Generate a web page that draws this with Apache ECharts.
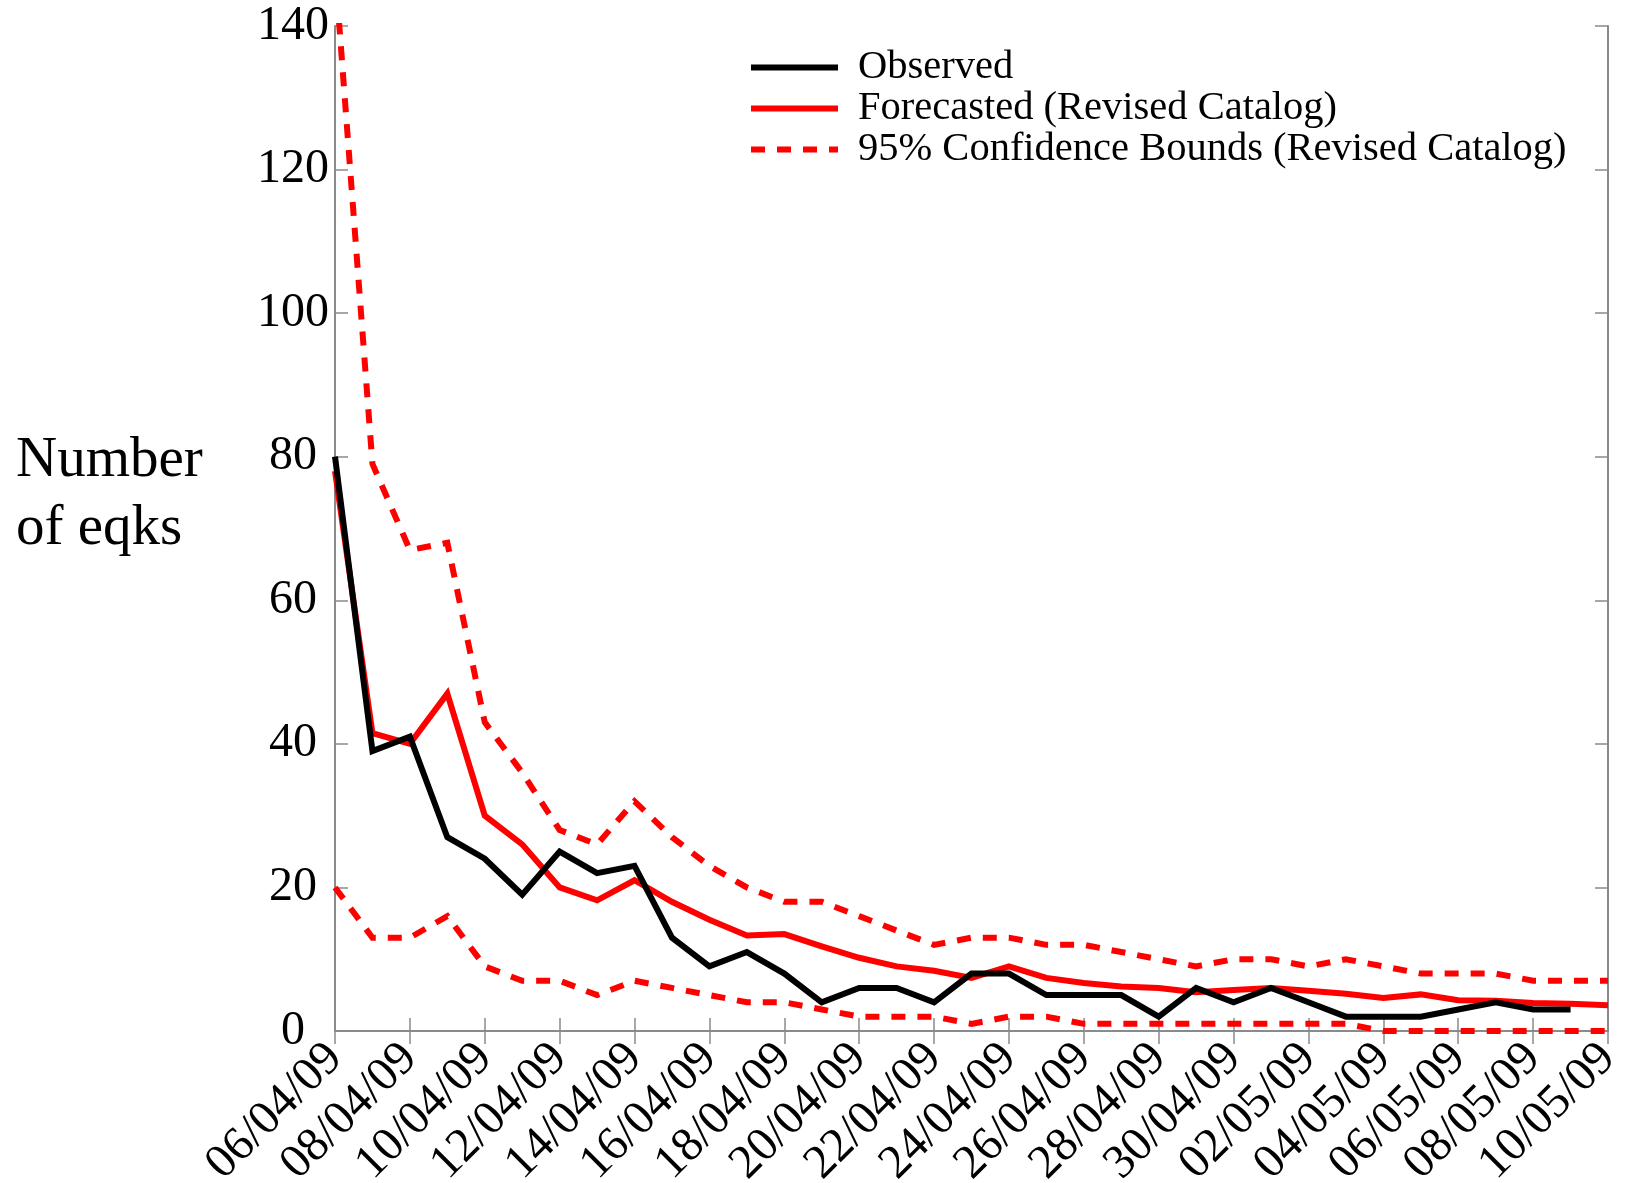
<!DOCTYPE html>
<html>
<head>
<meta charset="utf-8">
<script src="https://cdn.jsdelivr.net/npm/echarts/dist/echarts.min.js"></script>
<style>
  html, body { margin: 0; padding: 0; background: #ffffff; }
  #chart { width: 1627px; height: 1183px; }
</style>
</head>
<body>
<div id="chart"></div>
<script>
// Daily earthquake counts, 6 April – 10 May 2009
const dates = [
  '06/04/09','07/04/09','08/04/09','09/04/09','10/04/09','11/04/09','12/04/09',
  '13/04/09','14/04/09','15/04/09','16/04/09','17/04/09','18/04/09','19/04/09',
  '20/04/09','21/04/09','22/04/09','23/04/09','24/04/09','25/04/09','26/04/09',
  '27/04/09','28/04/09','29/04/09','30/04/09','01/05/09','02/05/09','03/05/09',
  '04/05/09','05/05/09','06/05/09','07/05/09','08/05/09','09/05/09','10/05/09'
];

const observed = [
  80, 39, 41, 27, 24, 19, 25, 22, 23, 13, 9, 11, 8, 4, 6, 6, 4, 8, 8, 5, 5,
  5, 2, 6, 4, 6, 4, 2, 2, 2, 3, 4, 3, 3, null
];

const forecasted = [
  78, 41.5, 40, 47, 30, 26, 20, 18.2, 21, 18, 15.5, 13.3, 13.5, 11.8, 10.2, 9.0,
  8.4, 7.4, 9.0, 7.4, 6.7, 6.2, 6.0, 5.4, 5.7, 6.0, 5.6, 5.2, 4.6, 5.1, 4.3,
  4.2, 3.9, 3.8, 3.6
];

const upperBound = [
  148, 79, 67, 68, 43, 36, 28, 26, 32, 27, 23, 20, 18, 18, 16, 14, 12, 13, 13,
  12, 12, 11, 10, 9, 10, 10, 9, 10, 9, 8, 8, 8, 7, 7, 7
];

const lowerBound = [
  20, 13, 13, 16, 9, 7, 7, 5, 7, 6, 5, 4, 4, 3, 2, 2, 2, 1, 2, 2, 1, 1, 1, 1,
  1, 1, 1, 1, 0, 0, 0, 0, 0, 0, 0
];

const yMin = 0, yMax = 140, yStep = 20;

const NAME_OBS = 'Observed';
const NAME_FC = 'Forecasted (Revised Catalog)';
const NAME_CB = '95% Confidence Bounds (Revised Catalog)';

const SERIF = '"Liberation Serif", "Times New Roman", serif';
const RED = '#ff0000';
const AXIS_GRAY = '#8a8a8a';

const frameLine = { show: true, lineStyle: { color: AXIS_GRAY, width: 2 } };
const frameTick = { show: true, inside: true, length: 13, lineStyle: { color: AXIS_GRAY, width: 1.5 } };

const chart = echarts.init(document.getElementById('chart'), null, { renderer: 'canvas' });

chart.setOption({
  animation: false,
  backgroundColor: '#ffffff',
  grid: {
    left: 335, right: 19, top: 26, bottom: 152,
    containLabel: false,
    outerBoundsMode: 'none'
  },
  legend: {
    orient: 'vertical',
    left: 748,
    top: 47,
    padding: 0,
    itemGap: 0,
    itemWidth: 87,
    itemHeight: 14,
    data: [NAME_OBS, NAME_FC, NAME_CB],
    itemStyle: { opacity: 0 },
    lineStyle: { width: 6 },
    textStyle: {
      fontFamily: SERIF,
      fontSize: 40.5,
      lineHeight: 41,
      color: '#000000',
      padding: [0, 0, 0, 15]
    }
  },
  xAxis: [
    {
      type: 'category',
      data: dates,
      boundaryGap: false,
      position: 'bottom',
      axisLine: frameLine,
      axisTick: Object.assign({ interval: 1 }, frameTick),
      axisLabel: {
        interval: 1,
        rotate: 45,
        margin: 20,
        fontFamily: SERIF,
        fontSize: 48,
        color: '#000000'
      },
      splitLine: { show: false }
    },
    {
      type: 'category',
      data: dates,
      boundaryGap: false,
      position: 'top',
      axisLine: frameLine,
      axisTick: Object.assign({ interval: 1 }, frameTick),
      axisLabel: { show: false },
      splitLine: { show: false }
    }
  ],
  yAxis: [
    {
      type: 'value',
      min: yMin,
      max: yMax,
      interval: yStep,
      position: 'left',
      axisLine: frameLine,
      axisTick: frameTick,
      axisLabel: {
        margin: 42,
        align: 'center',
        fontFamily: SERIF,
        fontSize: 48,
        color: '#000000'
      },
      splitLine: { show: false }
    },
    {
      type: 'value',
      min: yMin,
      max: yMax,
      interval: yStep,
      position: 'right',
      axisLine: frameLine,
      axisTick: frameTick,
      axisLabel: { show: false },
      splitLine: { show: false }
    }
  ],
  graphic: [
    {
      type: 'text',
      left: 16,
      top: 427,
      style: {
        text: 'Number\nof eqks',
        fontFamily: SERIF,
        fontSize: 57,
        lineHeight: 68,
        fill: '#000000'
      }
    }
  ],
  series: [
    {
      name: NAME_CB,
      type: 'line',
      data: upperBound,
      symbol: 'none',
      clip: true,
      itemStyle: { color: RED },
      lineStyle: { color: RED, width: 6, type: [14, 12], cap: 'butt', join: 'miter' }
    },
    {
      name: NAME_CB,
      type: 'line',
      data: lowerBound,
      symbol: 'none',
      clip: true,
      itemStyle: { color: RED },
      lineStyle: { color: RED, width: 6, type: [14, 12], cap: 'butt', join: 'miter' }
    },
    {
      name: NAME_FC,
      type: 'line',
      data: forecasted,
      symbol: 'none',
      clip: true,
      itemStyle: { color: RED },
      lineStyle: { color: RED, width: 6, join: 'miter' }
    },
    {
      name: NAME_OBS,
      type: 'line',
      data: observed,
      symbol: 'none',
      clip: true,
      connectNulls: false,
      itemStyle: { color: '#000000' },
      lineStyle: { color: '#000000', width: 6, join: 'miter' }
    }
  ]
});
</script>
</body>
</html>
